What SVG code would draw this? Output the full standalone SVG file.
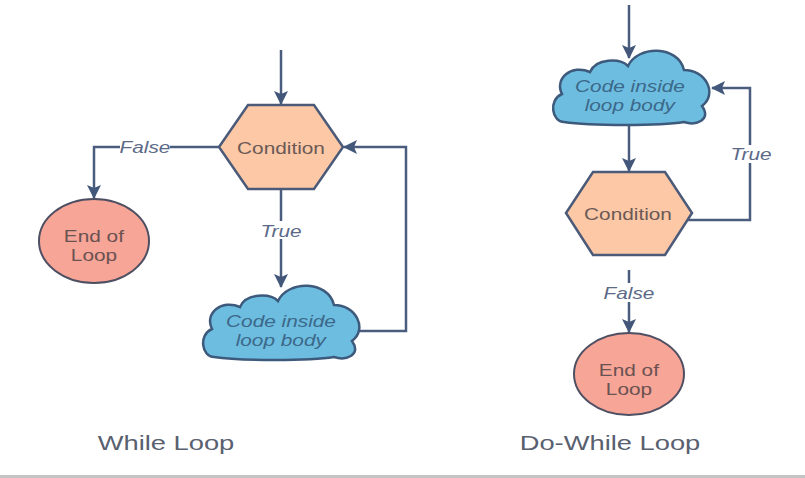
<svg xmlns="http://www.w3.org/2000/svg" width="805" height="478" viewBox="0 0 805 478">
<style>
.t{font-family:"Liberation Sans",Arial,sans-serif;font-size:16px;text-anchor:middle;transform-box:fill-box;transform-origin:center;transform:scaleX(1.3)}
.cond{fill:#6b5a56}
.end{fill:#6a5252}
.cl{fill:#3c6889;font-style:italic}
.lab{fill:#5c6a88;font-style:italic}
.title{fill:#59606f;font-size:21px}
.hex{fill:#fdc8a6;stroke:#4b5a78;stroke-width:2.5;stroke-linejoin:miter}
.ell{fill:#f7a596;stroke:#4e4f62;stroke-width:2}
.cloud{fill:#6cbde0;stroke:#3d5a7c;stroke-width:2.5}
.ln{fill:none;stroke:#4b5d7e;stroke-width:2.5}
.bg{fill:#ffffff}
</style>
<defs>
<marker id="ah" viewBox="0 0 14 14" refX="13" refY="7" markerWidth="14" markerHeight="14" markerUnits="userSpaceOnUse" orient="auto">
<path d="M0,0 L14,7 L0,14 L3,7 Z" fill="#43577a"/>
</marker>
<path id="cloudShape" d="M14 74 C2 74 -2 52 12 46 C4 30 22 16 40 24 C46 10 70 10 78 18 C88 -3 128 -3 134 22 C156 22 168 46 152 58 C162 72 146 78 134 74 C110 78 40 78 14 74 Z"/>
</defs>
<rect x="0" y="0" width="805" height="478" fill="#ffffff"/>
<rect x="0" y="475" width="805" height="3" fill="#c4c4c4"/>

<g id="connectors">
<line class="ln" x1="281" y1="50" x2="281" y2="104" marker-end="url(#ah)"/>
<polyline class="ln" points="219,147 94,147 94,198" marker-end="url(#ah)"/>
<line class="ln" x1="281" y1="189" x2="281" y2="287" marker-end="url(#ah)"/>
<polyline class="ln" points="359,331 406,331 406,147 344,147" marker-end="url(#ah)"/>
<line class="ln" x1="629" y1="5" x2="629" y2="58" marker-end="url(#ah)"/>
<line class="ln" x1="629" y1="122" x2="629" y2="171" marker-end="url(#ah)"/>
<polyline class="ln" points="687,220 750,220 750,88 712,88" marker-end="url(#ah)"/>
<line class="ln" x1="629" y1="270" x2="629" y2="332" marker-end="url(#ah)"/>
<rect class="bg" x="120" y="139" width="50" height="17"/>
<text class="t lab" x="145" y="153">False</text>
<rect class="bg" x="262" y="221" width="38" height="18"/>
<text class="t lab" x="281" y="237">True</text>
<rect class="bg" x="733" y="145" width="36" height="18"/>
<text class="t lab" x="751" y="160">True</text>
<rect class="bg" x="606" y="283" width="46" height="19"/>
<text class="t lab" x="629" y="299">False</text>
</g>

<g id="while-condition">
<polygon class="hex" points="248,105 314,105 343,147 314,189 248,189 219,147"/>
<text class="t cond" x="281" y="154">Condition</text>
</g>
<g id="while-end">
<ellipse class="ell" cx="94" cy="241" rx="55" ry="42"/>
<text class="t end" x="94" y="242">End of</text>
<text class="t end" x="94" y="261">Loop</text>
</g>
<g id="while-body">
<use href="#cloudShape" class="cloud" transform="translate(200,283)"/>
<text class="t cl" x="281" y="327">Code inside</text>
<text class="t cl" x="281" y="346">loop body</text>
</g>

<g id="dowhile-body">
<use href="#cloudShape" class="cloud" transform="translate(550,48)"/>
<text class="t cl" x="630" y="92">Code inside</text>
<text class="t cl" x="630" y="111">loop body</text>
</g>
<g id="dowhile-condition">
<polygon class="hex" points="593,172 665,172 692,213 665,255 593,255 566,213"/>
<text class="t cond" x="628" y="220">Condition</text>
</g>
<g id="dowhile-end">
<ellipse class="ell" cx="629" cy="374" rx="55" ry="41"/>
<text class="t end" x="629" y="376">End of</text>
<text class="t end" x="629" y="395">Loop</text>
</g>

<g id="titles">
<text class="t title" x="166" y="450">While Loop</text>
<text class="t title" x="610" y="450">Do-While Loop</text>
</g>
</svg>
